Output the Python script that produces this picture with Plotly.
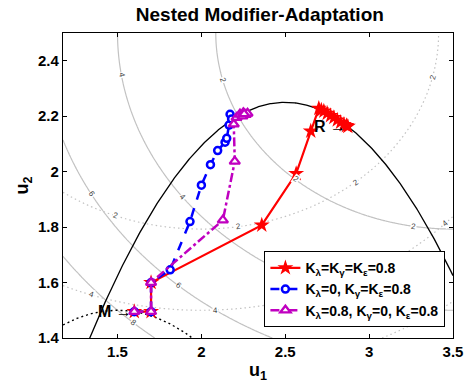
import math
import numpy as np
import plotly.graph_objects as go

# Plant and model parameters: theta = [t1, t2, t3, t4]
# cost       = (u1 - t1)^2 + 4 (u2 - 2.5)^2
# constraint = (u1 - t2)^2 - 4 (u2 - t4) t3 - 2 <= 0
theta_plant = [3.5, 2.5, -0.4, 1.0]
theta_model = [2.0, 1.5, -0.5, 0.5]

# Optimum points
M_point = [1.6, 1.495]
R_point = [2.873, 2.163]

# Iterates for each filter-gain setting
red_u1 = [1.6, 1.7, 1.7, 2.36, 2.565, 2.652, 2.70, 2.715, 2.73, 2.75, 2.77, 2.79,
          2.81, 2.83, 2.85, 2.865, 2.873]
red_u2 = [1.495, 1.495, 1.6, 1.807, 1.993, 2.146, 2.228, 2.222, 2.218, 2.21, 2.202,
          2.195, 2.186, 2.178, 2.17, 2.166, 2.163]

blue_u1 = [1.6, 1.7, 1.7, 1.814, 1.932, 2.0, 2.054, 2.097, 2.141, 2.151, 2.165,
           2.171, 2.18]
blue_u2 = [1.495, 1.495, 1.6, 1.646, 1.82, 1.951, 2.025, 2.076, 2.106, 2.12, 2.168,
           2.207, 2.19]

mag_u1 = [1.6, 1.7, 1.7, 2.128, 2.199, 2.193, 2.21, 2.23, 2.25, 2.265, 2.245,
          2.275, 2.255]
mag_u2 = [1.495, 1.495, 1.6, 1.825, 2.037, 2.171, 2.195, 2.207, 2.212, 2.206,
          2.2, 2.21, 2.208]

series_names = [
    "<b>K<sub>λ</sub>=K<sub>γ</sub>=K<sub>ε</sub>=0.8</b>",
    "<b>K<sub>λ</sub>=0, K<sub>γ</sub>=K<sub>ε</sub>=0.8</b>",
    "<b>K<sub>λ</sub>=0.8, K<sub>γ</sub>=0, K<sub>ε</sub>=0.8</b>",
]

# Contour label placement: (level, u1) on the lower branch of each contour
plant_labels = [(2, 2.128), (2, 2.564), (2, 3.262), (4, 1.523), (4, 1.89),
                (6, 1.343), (6, 1.866), (8, 1.593)]
model_labels = [(2, 3.378), (2, 2.919), (2, 2.221), (2, 1.488), (4, 1.343),
                (4, 2.087), (4, 3.453)]

x_range = [1.175, 3.5]
y_range = [1.4, 2.5]
x_ticks = [1.5, 2, 2.5, 3, 3.5]
y_ticks = [1.4, 1.6, 1.8, 2.0, 2.2, 2.4]

W, H = 475, 389
MARGIN = dict(l=63, r=12, t=33, b=48)


def cost(u1, u2, th):
    return (u1 - th[0]) ** 2 + 4 * (u2 - 2.5) ** 2


def boundary(u1, th):
    # u2 on G = 0
    return th[3] + (2 - (u1 - th[1]) ** 2) / (-4 * th[2])


FONT = "Arial, Liberation Sans, sans-serif"
GRAY = "#c2c2c2"

g1 = np.linspace(x_range[0], x_range[1], 300)
g2 = np.linspace(y_range[0], y_range[1], 300)
U1, U2 = np.meshgrid(g1, g2)

fig = go.Figure()

# Cost contours: plant (solid) and model (dotted)
for th, dash in [(theta_plant, "solid"), (theta_model, "1.5px,3px")]:
    fig.add_trace(go.Contour(
        x=g1, y=g2, z=cost(U1, U2, th),
        contours=dict(start=2, end=8, size=2, coloring="none", showlabels=False),
        line=dict(color=GRAY, width=1.2, dash=dash),
        showscale=False, showlegend=False, hoverinfo="skip",
    ))

# Inline contour labels, rotated along the contour
px_per_x = (W - MARGIN["l"] - MARGIN["r"]) / (x_range[1] - x_range[0])
px_per_y = (H - MARGIN["t"] - MARGIN["b"]) / (y_range[1] - y_range[0])
for th, labels in [(theta_plant, plant_labels), (theta_model, model_labels)]:
    for level, u1 in labels:
        d = u1 - th[0]
        s = math.sqrt((level - d * d) / 4)
        u2 = 2.5 - s
        slope = d / (4 * s)
        ang = math.degrees(math.atan2(-slope * px_per_y, px_per_x))
        fig.add_annotation(x=u1, y=u2, text=str(level), showarrow=False,
                           textangle=ang, bgcolor="white", borderpad=0,
                           font=dict(family=FONT, size=8, color="#444444"))

# Constraint boundaries
cu = np.linspace(x_range[0], x_range[1], 400)
fig.add_trace(go.Scatter(x=cu, y=boundary(cu, theta_plant), mode="lines",
                         line=dict(color="black", width=1.3),
                         showlegend=False, hoverinfo="skip"))
fig.add_trace(go.Scatter(x=cu, y=boundary(cu, theta_model), mode="lines",
                         line=dict(color="black", width=1.4, dash="2px,3px"),
                         showlegend=False, hoverinfo="skip"))

# Iterates
fig.add_trace(go.Scatter(
    x=red_u1, y=red_u2, mode="lines+markers", name=series_names[0],
    line=dict(color="#ff0000", width=2.2),
    marker=dict(symbol="star", size=12, color="#ff0000",
                line=dict(color="#ff0000", width=0)),
))
fig.add_trace(go.Scatter(
    x=blue_u1, y=blue_u2, mode="lines+markers", name=series_names[1],
    line=dict(color="#0000ff", width=2.5, dash="dash"),
    marker=dict(symbol="circle", size=7, color="white",
                line=dict(color="#0000ff", width=2.5)),
))
fig.add_trace(go.Scatter(
    x=mag_u1, y=mag_u2, mode="lines+markers", name=series_names[2],
    line=dict(color="#c000c0", width=2.5, dash="dashdot"),
    marker=dict(symbol="triangle-up", size=9, color="white",
                line=dict(color="#c000c0", width=2.3)),
))

for label, pt in [("M", M_point), ("R", R_point)]:
    fig.add_annotation(x=pt[0], y=pt[1], text=f"<b>{label}</b> →",
                       showarrow=False, xanchor="right", yanchor="middle",
                       font=dict(family=FONT, size=16, color="black"))

axis_common = dict(
    showgrid=False, zeroline=False, showline=True, linecolor="black",
    linewidth=1.2, mirror="ticks", ticks="inside", ticklen=4,
    tickcolor="black", tickfont=dict(family=FONT, size=15, color="black"),
)
fig.update_xaxes(range=x_range, tickvals=x_ticks,
                 ticktext=[f"<b>{v:g}</b>" for v in x_ticks],
                 title=dict(text="<b>u<sub>1</sub></b>", standoff=4,
                            font=dict(family=FONT, size=18, color="black")),
                 **axis_common)
fig.update_yaxes(range=y_range, tickvals=y_ticks,
                 ticktext=[f"<b>{v:g}</b>" for v in y_ticks],
                 title=dict(text="<b>u<sub>2</sub></b>", standoff=4,
                            font=dict(family=FONT, size=18, color="black")),
                 **axis_common)

fig.update_layout(
    width=W, height=H,
    margin=MARGIN,
    paper_bgcolor="white", plot_bgcolor="white",
    title=dict(text="<b>Nested Modifier-Adaptation</b>", x=0.547, xanchor="center",
               y=0.962, yanchor="middle",
               font=dict(family=FONT, size=19, color="black")),
    legend=dict(x=0.98, xanchor="right", y=0.036, yanchor="bottom",
                bgcolor="white", bordercolor="black", borderwidth=1.2,
                font=dict(family=FONT, size=14, color="black"),
                tracegroupgap=0, itemwidth=30),
    font=dict(family=FONT),
)

fig.write_html("out.html")
